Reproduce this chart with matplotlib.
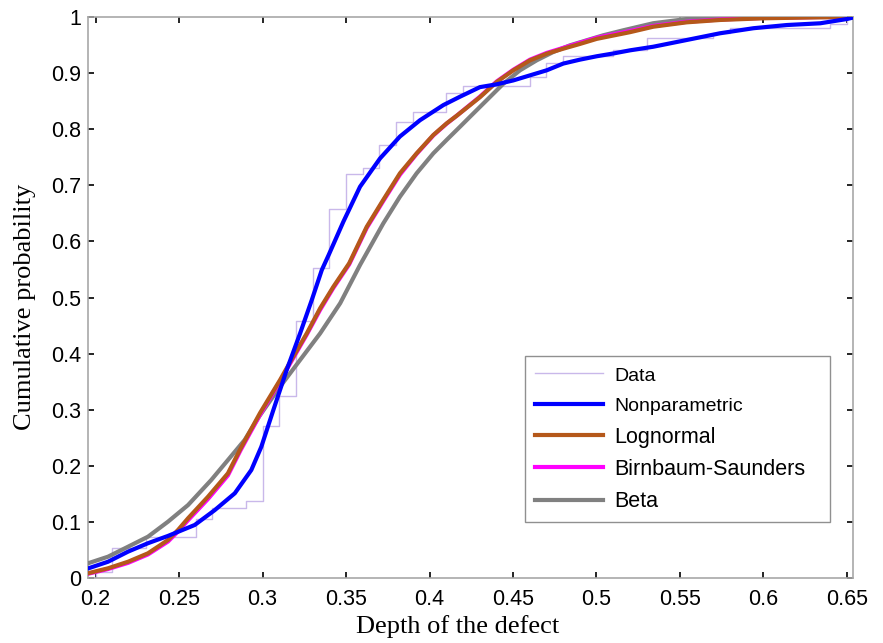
import matplotlib
matplotlib.use("Agg")
import matplotlib.pyplot as plt

# Empirical CDF of measured defect depths (jump locations and levels)
data_depth = [0.20, 0.21, 0.23, 0.26, 0.27, 0.29, 0.30, 0.31, 0.32, 0.33, 0.34,
              0.35, 0.36, 0.37, 0.38, 0.39, 0.41, 0.42, 0.46, 0.47, 0.48, 0.51,
              0.53, 0.57, 0.58, 0.64, 0.65]
data_cdf = [0.011, 0.053, 0.0725, 0.105, 0.125, 0.137, 0.271, 0.324, 0.459, 0.552,
            0.658, 0.720, 0.731, 0.772, 0.813, 0.831, 0.8645, 0.877, 0.893, 0.918,
            0.930, 0.941, 0.962, 0.972, 0.980, 0.987, 1.0]

# Kernel (nonparametric) fit
np_x = [0.1955, 0.2075, 0.2195, 0.2314, 0.2434, 0.2594, 0.2714, 0.2834, 0.2933,
        0.2993, 0.3065, 0.3145, 0.3225, 0.3295, 0.3355, 0.3395, 0.3484, 0.3584,
        0.3704, 0.3823, 0.3943, 0.4083, 0.4183, 0.4302, 0.4402, 0.4502, 0.4602,
        0.4702, 0.4801, 0.4901, 0.5001, 0.5101, 0.5201, 0.534, 0.554, 0.574,
        0.594, 0.614, 0.634, 0.650, 0.6536]
np_y = [0.017, 0.029, 0.047, 0.062, 0.075, 0.0945, 0.121, 0.151, 0.1925, 0.234,
        0.2995, 0.371, 0.436, 0.4955, 0.549, 0.575, 0.635, 0.6975, 0.748, 0.787,
        0.816, 0.843, 0.858, 0.875, 0.880, 0.887, 0.896, 0.905, 0.917, 0.924,
        0.930, 0.935, 0.9406, 0.947, 0.959, 0.971, 0.980, 0.9857, 0.9888, 0.9964,
        0.999]

# Lognormal fit
ln_x = [0.1955, 0.2075, 0.2195, 0.2314, 0.2434, 0.2494, 0.2554, 0.2674, 0.2793,
        0.2869, 0.2985, 0.3105, 0.3184, 0.3265, 0.3345, 0.3424, 0.3519, 0.3624,
        0.3723, 0.3823, 0.3923, 0.4023, 0.4103, 0.4163, 0.4302, 0.4402, 0.4502,
        0.4602, 0.4702, 0.4801, 0.4901, 0.5001, 0.5101, 0.5201, 0.534, 0.554,
        0.574, 0.600, 0.634, 0.6536]
ln_y = [0.0084, 0.0173, 0.029, 0.044, 0.0677, 0.0856, 0.1064, 0.145, 0.1866,
        0.231, 0.294, 0.353, 0.3945, 0.436, 0.4807, 0.519, 0.561, 0.626, 0.674,
        0.7214, 0.757, 0.7897, 0.8105, 0.824, 0.857, 0.884, 0.905, 0.9228, 0.9346,
        0.9435, 0.952, 0.961, 0.967, 0.973, 0.9827, 0.9905, 0.9947, 0.9977,
        0.9995, 1.0]

# Birnbaum-Saunders fit
bs_x = [0.1955, 0.2075, 0.2195, 0.2314, 0.2434, 0.2494, 0.2554, 0.2674, 0.2793,
        0.2869, 0.2985, 0.3105, 0.3184, 0.3265, 0.3345, 0.3424, 0.3519, 0.3624,
        0.3723, 0.3823, 0.3923, 0.4023, 0.4103, 0.4163, 0.4302, 0.4402, 0.4502,
        0.4602, 0.4702, 0.4801, 0.4901, 0.5001, 0.5101, 0.5201, 0.534, 0.554,
        0.574, 0.600, 0.634, 0.6536]
bs_y = [0.0075, 0.016, 0.027, 0.042, 0.065, 0.083, 0.103, 0.141, 0.183, 0.228,
        0.291, 0.351, 0.392, 0.434, 0.478, 0.517, 0.559, 0.624, 0.672, 0.719,
        0.756, 0.789, 0.810, 0.824, 0.858, 0.885, 0.906, 0.924, 0.936, 0.945,
        0.954, 0.963, 0.969, 0.975, 0.984, 0.9915, 0.9955, 0.9985, 1.0, 1.0]

# Beta fit
bt_x = [0.1955, 0.2075, 0.2195, 0.2314, 0.2434, 0.2554, 0.2693, 0.2793, 0.2893,
        0.2980, 0.3105, 0.3225, 0.3345, 0.3465, 0.3584, 0.3723, 0.3823, 0.3923,
        0.4023, 0.4103, 0.4183, 0.4242, 0.4342, 0.4442, 0.4542, 0.4642, 0.4741,
        0.4841, 0.4941, 0.5040, 0.5160, 0.534, 0.554, 0.574, 0.6536]
bt_y = [0.0262, 0.038, 0.0558, 0.0736, 0.1004, 0.130, 0.1747, 0.2103, 0.246,
        0.288, 0.341, 0.3886, 0.436, 0.4897, 0.558, 0.632, 0.6797, 0.7214, 0.757,
        0.781, 0.8045, 0.822, 0.8515, 0.881, 0.905, 0.9228, 0.9376, 0.9495,
        0.9585, 0.9674, 0.9763, 0.9889, 0.9964, 0.9995, 1.0]

x_ticks = [0.2, 0.25, 0.3, 0.35, 0.4, 0.45, 0.5, 0.55, 0.6, 0.65]
x_tick_labels = ["0.2", "0.25", "0.3", "0.35", "0.4", "0.45", "0.5", "0.55", "0.6", "0.65"]
y_ticks = [0, 0.1, 0.2, 0.3, 0.4, 0.5, 0.6, 0.7, 0.8, 0.9, 1]
y_tick_labels = ["0", "0.1", "0.2", "0.3", "0.4", "0.5", "0.6", "0.7", "0.8", "0.9", "1"]

sans = ["Liberation Sans", "DejaVu Sans"]
serif = ["Liberation Serif", "DejaVu Serif"]

fig = plt.figure(figsize=(8.83, 6.43), dpi=100)
ax = fig.add_axes([88 / 883, 1 - 578 / 643, 765 / 883, 561 / 643])

ax.step([data_depth[0]] + data_depth, [0.0] + data_cdf, where="post",
         color="#c9b8ea", lw=1.0, label="Data", zorder=2)
ax.plot(bt_x, bt_y, color="#808080", lw=3.0, label="Beta", zorder=3)
ax.plot(bs_x, bs_y, color="#ff00ff", lw=3.0, label="Birnbaum-Saunders", zorder=4)
ax.plot(ln_x, ln_y, color="#b5581a", lw=3.0, label="Lognormal", zorder=5)
ax.plot(np_x, np_y, color="#0000ff", lw=3.0, label="Nonparametric", zorder=6)

ax.set_xlim(0.1955, 0.6536)
ax.set_ylim(0, 1)
ax.set_xticks(x_ticks)
ax.set_xticklabels(x_tick_labels)
ax.set_yticks(y_ticks)
ax.set_yticklabels(y_tick_labels)
ax.tick_params(direction="in", length=4, width=1.2, color="black",
               top=True, right=True, labelsize=15.5)
ax.tick_params(axis="x", pad=8)
ax.tick_params(axis="y", pad=5)
for lab in ax.get_xticklabels() + ax.get_yticklabels():
    lab.set_fontfamily(sans)

for sp in ax.spines.values():
    sp.set_color("#a8a8a8")
    sp.set_linewidth(1.2)

ax.set_xlabel("Depth of the defect", fontsize=19, family=serif)
ax.set_ylabel("Cumulative probability", fontsize=19, family=serif)
ax.xaxis.set_label_coords(0.4837, -0.066)
ax.yaxis.set_label_coords(-0.068, 0.484)

handles, labels = ax.get_legend_handles_labels()
order = ["Data", "Nonparametric", "Lognormal", "Birnbaum-Saunders", "Beta"]
hmap = dict(zip(labels, handles))
leg = ax.legend([hmap[k] for k in order], order,
                loc="lower left", bbox_to_anchor=(0.571, 0.0998, 0.399, 0.289),
                mode="expand", prop={"family": sans, "size": 15.5},
                frameon=True, fancybox=False, framealpha=1.0,
                edgecolor="#909090", handlelength=3.2, handletextpad=0.5,
                labelspacing=0.53, borderpad=0.45, borderaxespad=0.0)
leg.get_frame().set_linewidth(1.0)
for t in leg.get_texts()[:2]:
    t.set_fontsize(14)

fig.savefig("out.png", dpi=100)
